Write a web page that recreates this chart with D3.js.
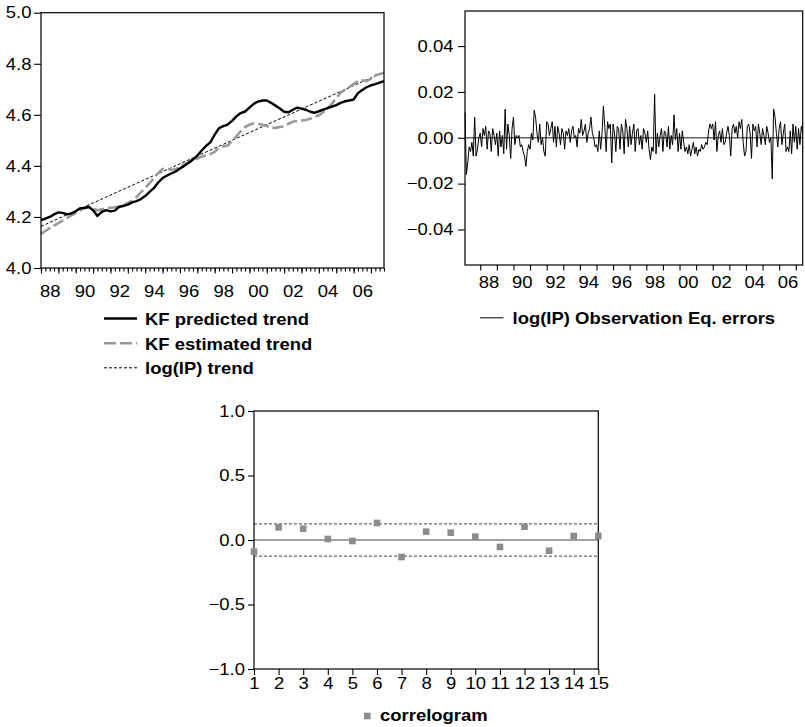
<!DOCTYPE html>
<html><head><meta charset="utf-8">
<script src="https://cdn.jsdelivr.net/npm/d3@7"></script>
<style>
body{margin:0;background:#fff;}
svg{display:block;font-family:"Liberation Sans",Arial,Helvetica,sans-serif;}
</style></head><body>
<svg id="chart" width="805" height="727"></svg>
<script>
// ---- Trend panel: quarterly values from 1988Q1 ----
const trendStart = 1988.0;
const trendStep = 0.25;
const kfPredicted = [
  4.188,4.193,4.200,4.210,4.218,4.216,4.210,4.214,4.222,4.234,4.235,4.240,
  4.226,4.204,4.220,4.227,4.222,4.225,4.240,4.243,4.248,4.257,4.262,4.270,
  4.282,4.298,4.313,4.335,4.352,4.362,4.370,4.378,4.390,4.400,4.412,4.425,
  4.440,4.460,4.478,4.492,4.522,4.548,4.556,4.562,4.576,4.594,4.607,4.613,
  4.628,4.643,4.652,4.656,4.656,4.647,4.636,4.625,4.612,4.610,4.620,4.628,
  4.624,4.620,4.612,4.608,4.614,4.620,4.626,4.632,4.638,4.647,4.653,4.656,
  4.660,4.685,4.697,4.708,4.715,4.720,4.726,4.732
];
const kfEstimated = [
  4.134,4.145,4.156,4.166,4.176,4.186,4.196,4.206,4.216,4.226,4.236,4.238,
  4.232,4.226,4.230,4.234,4.236,4.238,4.240,4.246,4.255,4.264,4.278,4.296,
  4.313,4.332,4.352,4.372,4.388,4.389,4.385,4.387,4.397,4.406,4.413,4.421,
  4.429,4.436,4.441,4.446,4.455,4.472,4.476,4.480,4.497,4.516,4.536,4.552,
  4.561,4.567,4.565,4.561,4.556,4.549,4.549,4.552,4.555,4.565,4.573,4.576,
  4.578,4.580,4.585,4.592,4.598,4.610,4.625,4.643,4.666,4.687,4.698,4.709,
  4.720,4.732,4.735,4.732,4.742,4.754,4.760,4.764
];
const ipTrendYears = [1988.0, 2007.75];
const ipTrend = [4.163, 4.768];

// ---- Observation equation errors: monthly from 1987M2 to 2007M6 ----
const obsStart = 1987 + 1 / 12;
const obsErrors = [
  0.011,-0.016,-0.011,-0.004,-0.006,-0.002,-0.008,0.009,-0.008,-0.005,0.000,
  0.002,-0.004,0.004,0.001,0.005,-0.005,0.003,0.002,-0.006,0.004,0.001,-0.003,
  0.002,-0.008,0.003,-0.004,0.001,-0.007,0.0125,-0.005,0.006,0.001,-0.009,0.004,
  0.009,-0.003,0.001,0.000,0.001,-0.004,-0.003,-0.006,-0.008,-0.0125,-0.006,-0.003,
  -0.005,0.002,-0.001,0.012,0.009,0.002,-0.002,0.006,-0.003,0.000,-0.006,-0.008,
  0.007,0.006,0.001,0.004,0.007,-0.002,0.005,-0.004,0.005,0.002,-0.003,0.004,
  0.002,-0.005,0.003,0.001,0.004,-0.002,0.003,0.005,0.000,0.001,-0.004,0.004,
  0.002,0.008,0.001,0.003,0.006,-0.002,0.002,0.004,0.009,0.002,0.000,-0.004,
  -0.003,-0.006,0.003,-0.005,0.002,0.0138,0.005,-0.006,0.007,0.004,0.006,-0.011,
  0.006,0.002,-0.006,0.005,0.004,-0.005,0.006,0.003,-0.007,0.008,0.004,-0.004,
  0.005,-0.003,0.002,0.006,-0.006,0.003,0.004,-0.003,0.001,-0.005,0.004,0.002,
  -0.002,0.003,-0.005,-0.0095,-0.004,-0.006,0.019,-0.007,0.002,-0.004,0.001,0.004,
  -0.006,0.003,0.002,-0.004,0.005,-0.005,0.001,-0.003,0.010,-0.001,0.004,-0.006,
  0.002,-0.005,0.003,-0.002,-0.006,-0.004,-0.007,-0.003,-0.008,-0.005,-0.002,-0.007,
  -0.004,-0.008,-0.005,-0.006,-0.003,-0.005,-0.004,-0.002,-0.003,0.003,0.006,0.004,
  0.006,-0.001,0.007,-0.006,0.001,0.003,-0.002,0.004,-0.003,-0.002,0.002,0.005,
  0.001,-0.008,0.004,0.006,0.002,0.005,0.000,0.007,0.004,0.008,-0.002,-0.008,
  -0.006,0.005,0.006,0.002,-0.009,0.006,0.003,0.005,-0.004,0.006,0.002,-0.003,
  0.004,0.001,-0.003,0.005,0.002,-0.002,0.000,-0.018,0.0125,0.009,0.002,-0.004,
  0.004,0.007,-0.003,0.002,0.006,-0.006,-0.004,-0.006,0.003,-0.007,0.006,-0.002,
  0.005,-0.005,0.004,-0.003,0.005,0.002
];

// ---- Correlogram of the errors ----
const lags = [1,2,3,4,5,6,7,8,9,10,11,12,13,14,15];
const correlogram = [-0.090,0.098,0.088,0.008,-0.008,0.132,-0.132,0.065,0.057,0.026,-0.054,0.103,-0.083,0.031,0.031];
const band = 0.125;

// ---- Tick labels ----
const yearLabelYears = [1988,1990,1992,1994,1996,1998,2000,2002,2004,2006];
const yearLabels = ["88","90","92","94","96","98","00","02","04","06"];
const trendTicks = [4.0,4.2,4.4,4.6,4.8,5.0];
const errorTicks = [-0.04,-0.02,0.00,0.02,0.04];
const acfTicks = [-1.0,-0.5,0.0,0.5,1.0];

const SX = 1.12;          // horizontal glyph stretch
const FS = 16.5;          // tick label size
const svg = d3.select("#chart");

function styleAxis(g, left) {
  g.attr("font-family", null).attr("font-size", FS);
  g.select(".domain").remove();
  g.selectAll(".tick line").attr("stroke", "#000").attr("stroke-width", 1.1);
  g.selectAll(".tick text").attr("fill", "#000").attr("transform", `scale(${SX},1)`);
  if (left) {
    g.selectAll(".tick text").each(function () {
      const t = d3.select(this);
      t.attr("x", (+t.attr("x")) / SX);
    });
  }
}

function legendText(x, y, str) {
  svg.append("text")
    .attr("transform", `translate(${x},${y}) scale(${SX},1)`)
    .attr("font-size", FS).attr("font-weight", "bold").attr("fill", "#000")
    .text(str);
}

// ================= Panel 1: trends =================
{
  const L = 41, R = 384, T = 12.7, B = 268;
  const x = d3.scaleLinear().domain([1988.0, 2007.75]).range([L, R]);
  const y = d3.scaleLinear().domain([4.0, 5.0]).range([B, T]);
  const g = svg.append("g");

  const tq = (i) => trendStart + i * trendStep;
  const line = d3.line().x((d, i) => x(tq(i))).y(d => y(d));

  g.append("path").datum(ipTrend)
    .attr("d", d3.line().x((d, i) => x(ipTrendYears[i])).y(d => y(d)))
    .attr("fill", "none").attr("stroke", "#000").attr("stroke-width", 1)
    .attr("stroke-dasharray", "3,2");
  g.append("path").datum(kfEstimated).attr("d", line)
    .attr("fill", "none").attr("stroke", "#9a9a9a").attr("stroke-width", 2.6)
    .attr("stroke-dasharray", "11,4");
  g.append("path").datum(kfPredicted).attr("d", line)
    .attr("fill", "none").attr("stroke", "#000").attr("stroke-width", 2.4)
    .attr("stroke-linejoin", "round");

  g.append("rect").attr("x", L).attr("y", T).attr("width", R - L).attr("height", B - T)
    .attr("fill", "none").attr("stroke", "#000").attr("stroke-width", 1.2);

  const ya = g.append("g").attr("transform", `translate(${L},0)`)
    .call(d3.axisLeft(y).tickValues(trendTicks).tickFormat(d3.format(".1f")).tickSize(7).tickPadding(2.5));
  styleAxis(ya, true);

  const quarters = d3.range(1988, 2007.76, 0.25);
  const xq = g.append("g").attr("transform", `translate(0,${B})`)
    .call(d3.axisBottom(x).tickValues(quarters).tickFormat("").tickSize(3.5));
  styleAxis(xq, false);
  const xy = g.append("g").attr("transform", `translate(0,${B})`)
    .call(d3.axisBottom(x).tickValues(d3.range(1988, 2008, 1)).tickFormat("").tickSize(5.5));
  styleAxis(xy, false);
  const xl = g.append("g").attr("transform", `translate(0,${B})`)
    .call(d3.axisBottom(x).tickValues(yearLabelYears.map(v => v + 0.5))
      .tickFormat((d, i) => yearLabels[i]).tickSize(0).tickPadding(17));
  styleAxis(xl, false);

  // legend
  const lx0 = 104, lx1 = 137;
  svg.append("line").attr("x1", lx0).attr("x2", lx1).attr("y1", 318.5).attr("y2", 318.5)
    .attr("stroke", "#000").attr("stroke-width", 2.4);
  svg.append("line").attr("x1", lx0).attr("x2", lx1).attr("y1", 343.3).attr("y2", 343.3)
    .attr("stroke", "#9a9a9a").attr("stroke-width", 2.6).attr("stroke-dasharray", "12,4");
  svg.append("line").attr("x1", lx0).attr("x2", lx1).attr("y1", 367.8).attr("y2", 367.8)
    .attr("stroke", "#000").attr("stroke-width", 1).attr("stroke-dasharray", "3,2");
  legendText(145, 324.8, "KF predicted trend");
  legendText(145, 349.6, "KF estimated trend");
  legendText(145, 374.3, "log(IP) trend");
}

// ================= Panel 2: observation errors =================
{
  const L = 465, R = 802.7, T = 11, B = 265;
  const x = d3.scaleLinear().domain([obsStart, 2007 + 5 / 12]).range([L, R]);
  const y = d3.scaleLinear().domain([-0.0555, 0.0553]).range([B, T]);
  const g = svg.append("g");

  g.append("line").attr("x1", L).attr("x2", R).attr("y1", y(0)).attr("y2", y(0))
    .attr("stroke", "#666").attr("stroke-width", 1.6);
  g.append("path").datum(obsErrors)
    .attr("d", d3.line().x((d, i) => x(obsStart + i / 12)).y(d => y(d)))
    .attr("fill", "none").attr("stroke", "#000").attr("stroke-width", 1)
    .attr("stroke-linejoin", "round");

  g.append("rect").attr("x", L).attr("y", T).attr("width", R - L).attr("height", B - T)
    .attr("fill", "none").attr("stroke", "#000").attr("stroke-width", 1.2);

  const ya = g.append("g").attr("transform", `translate(${L},0)`)
    .call(d3.axisLeft(y).tickValues(errorTicks).tickFormat(d3.format(".2f")).tickSize(7).tickPadding(4.5));
  styleAxis(ya, true);
  const xt = g.append("g").attr("transform", `translate(0,${B})`)
    .call(d3.axisBottom(x).tickValues(d3.range(1988, 2008, 1)).tickFormat("").tickSize(5.5));
  styleAxis(xt, false);
  const xl = g.append("g").attr("transform", `translate(0,${B})`)
    .call(d3.axisBottom(x).tickValues(yearLabelYears.map(v => v + 0.5))
      .tickFormat((d, i) => yearLabels[i]).tickSize(0).tickPadding(11));
  styleAxis(xl, false);

  svg.append("line").attr("x1", 480).attr("x2", 503.5).attr("y1", 317.8).attr("y2", 317.8)
    .attr("stroke", "#000").attr("stroke-width", 1);
  legendText(512.5, 324, "log(IP) Observation Eq. errors");
}

// ================= Panel 3: correlogram =================
{
  const L = 254, R = 598.3, T = 411, B = 669;
  const x = d3.scaleLinear().domain([1, 15]).range([L, R]);
  const y = d3.scaleLinear().domain([-1, 1]).range([B, T]);
  const g = svg.append("g");

  g.append("line").attr("x1", L).attr("x2", R).attr("y1", y(0)).attr("y2", y(0))
    .attr("stroke", "#444").attr("stroke-width", 1.2);
  [band, -band].forEach(b => {
    g.append("line").attr("x1", L).attr("x2", R).attr("y1", y(b)).attr("y2", y(b))
      .attr("stroke", "#444").attr("stroke-width", 1).attr("stroke-dasharray", "3,2");
  });

  g.append("rect").attr("x", L).attr("y", T).attr("width", R - L).attr("height", B - T)
    .attr("fill", "none").attr("stroke", "#000").attr("stroke-width", 1.2);

  g.selectAll("rect.pt").data(correlogram).enter().append("rect")
    .attr("class", "pt")
    .attr("x", (d, i) => x(lags[i]) - 3.3).attr("y", d => y(d) - 3.3)
    .attr("width", 6.6).attr("height", 6.6).attr("fill", "#8c8c8c");

  const ya = g.append("g").attr("transform", `translate(${L},0)`)
    .call(d3.axisLeft(y).tickValues(acfTicks).tickFormat(d3.format(".1f")).tickSize(6).tickPadding(3));
  styleAxis(ya, true);
  const xa = g.append("g").attr("transform", `translate(0,${B})`)
    .call(d3.axisBottom(x).tickValues(lags).tickFormat(d3.format("d")).tickSize(6).tickPadding(2));
  styleAxis(xa, false);

  svg.append("rect").attr("x", 364).attr("y", 712.7).attr("width", 6.6).attr("height", 6.6)
    .attr("fill", "#8c8c8c");
  legendText(380, 721, "correlogram");
}
</script>
</body></html>
